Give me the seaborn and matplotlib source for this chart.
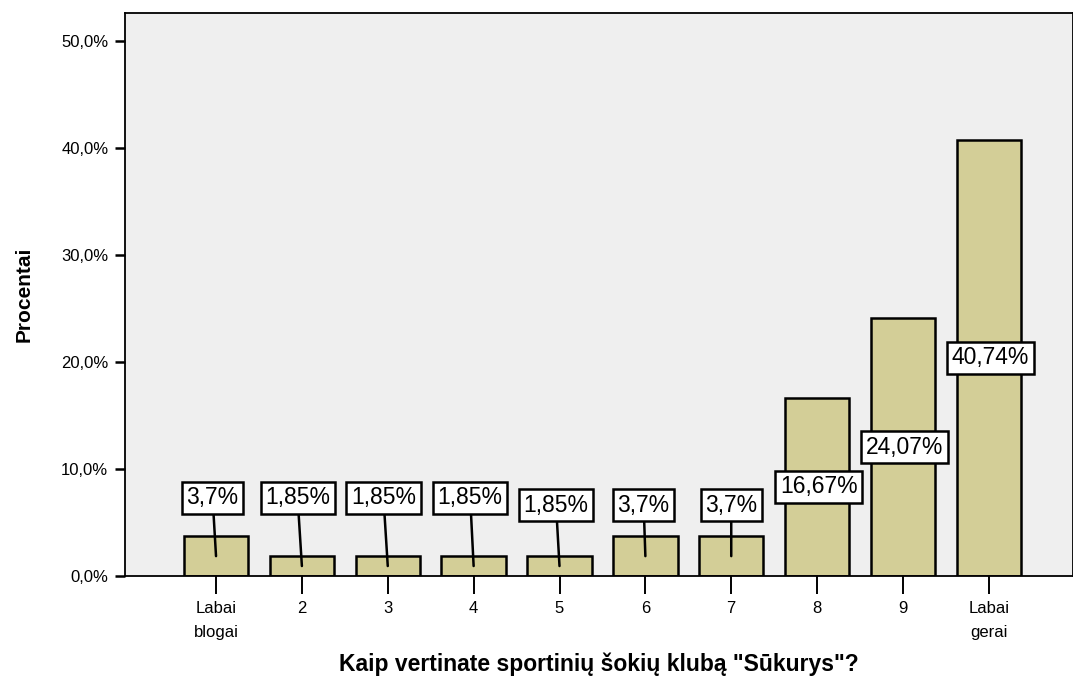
import matplotlib
matplotlib.use("Agg")
import matplotlib.pyplot as plt
import seaborn as sns
import pandas as pd

categories = ["Labai\nblogai", "2", "3", "4", "5", "6", "7", "8", "9", "Labai\ngerai"]
percents = [3.7, 1.85, 1.85, 1.85, 1.85, 3.7, 3.7, 16.67, 24.07, 40.74]
labels = ["3,7%", "1,85%", "1,85%", "1,85%", "1,85%", "3,7%", "3,7%", "16,67%", "24,07%", "40,74%"]
y_ticks = [0, 10, 20, 30, 40, 50]
y_ticklabels = ["0,0%", "10,0%", "20,0%", "30,0%", "40,0%", "50,0%"]

sns.set_style("white")
plt.rcParams["font.family"] = ["Liberation Sans", "DejaVu Sans"]
plt.rcParams["text.color"] = "black"
plt.rcParams["axes.labelcolor"] = "black"
plt.rcParams["xtick.color"] = "black"
plt.rcParams["ytick.color"] = "black"

df = pd.DataFrame({"cat": categories, "pct": percents})

fig = plt.figure(figsize=(10.73, 6.84), dpi=100)
ax = fig.add_axes([0.1165, 0.158, 0.8835, 0.823])
ax.set_facecolor("#efefef")

sns.barplot(data=df, x="cat", y="pct", color="#d3ce97", saturation=1,
            width=0.75, edgecolor="black", linewidth=1.8, ax=ax)

# labels: small bars get a box lifted above, with a leader line to bar middle
box_y = [7.3, 7.3, 7.3, 7.3, 6.6, 6.6, 6.6]
box_dx = [-0.04, -0.05, -0.05, -0.04, -0.04, -0.02, 0.0]
for i, (v, lab) in enumerate(zip(percents, labels)):
    bbox = dict(boxstyle="square,pad=0.2", fc="white", ec="black", lw=1.8)
    if i < len(box_y):
        ax.annotate(lab, xy=(i, v / 2), xytext=(i + box_dx[i], box_y[i]),
                    ha="center", va="center", fontsize=16.5, bbox=bbox,
                    arrowprops=dict(arrowstyle="-", color="black", lw=1.8,
                                    shrinkA=0, shrinkB=0))
    else:
        ax.text(i + 0.02, v / 2, lab, ha="center", va="center",
                fontsize=16.5, bbox=bbox)

ax.set_xlim(-1.06, 9.98)
ax.set_ylim(0, 52.6)
ax.set_yticks(y_ticks)
ax.set_yticklabels(y_ticklabels, fontsize=12)
ax.tick_params(axis="x", labelsize=12, length=13, width=1.4, direction="out",
               bottom=True, pad=5)
ax.tick_params(axis="y", length=7, width=1.8, direction="out", left=True, pad=5)
for lab in ax.get_xticklabels():
    lab.set_linespacing(1.75)

for s in ["left", "top", "bottom", "right"]:
    ax.spines[s].set_color("black")
    ax.spines[s].set_linewidth(1.3)

ax.set_xlabel('Kaip vertinate sportinių šokių klubą "Sūkurys"?', fontsize=16.5,
              fontweight="bold", labelpad=9)
ax.set_ylabel("Procentai", fontsize=15, fontweight="bold", labelpad=20)

fig.savefig("out.png", dpi=100)
